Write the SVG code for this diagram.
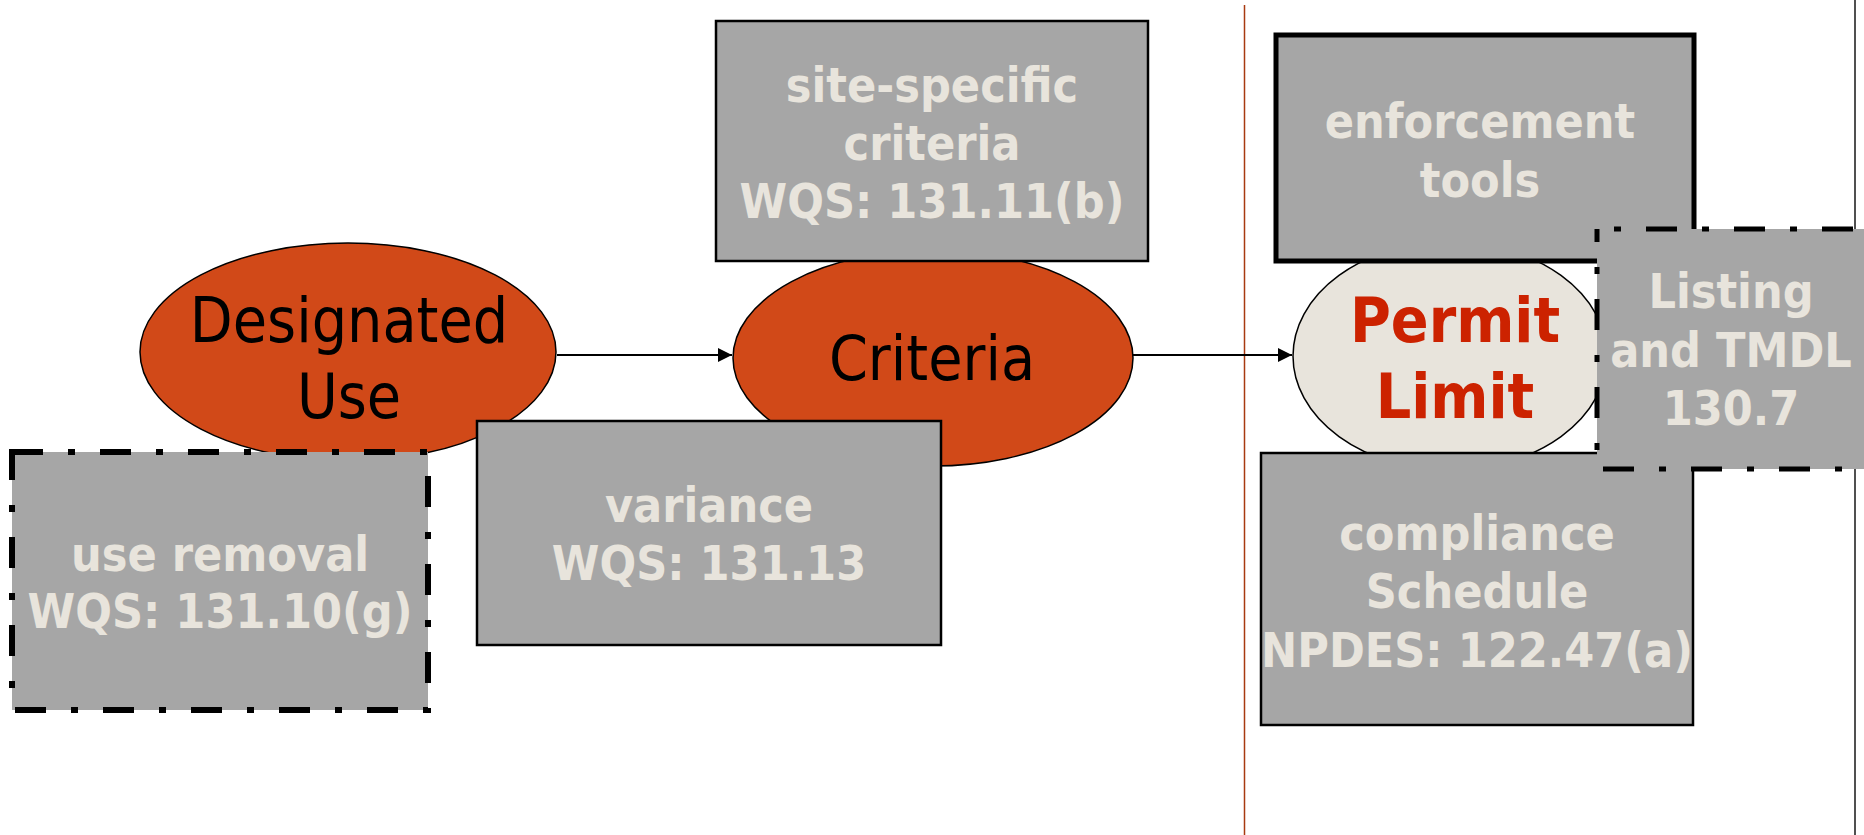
<svg xmlns="http://www.w3.org/2000/svg" width="1864" height="835" viewBox="0 0 1864 835">
  <style>
    .big { font-family: "DejaVu Sans Condensed", "DejaVu Sans", sans-serif; font-stretch: condensed; font-size: 62px; text-anchor: middle; }
    .lbl { font-family: "DejaVu Sans Condensed", "DejaVu Sans", sans-serif; font-stretch: condensed; font-weight: bold; font-size: 48px; fill: #E8E4DC; text-anchor: middle; }
    .use { fill: #D14918; stroke: #000; stroke-width: 1.5; }
    .box { fill: #A6A6A6; stroke: #000; stroke-width: 2.5; }
    .thick { stroke-width: 5; }
    .dash { fill: #A6A6A6; stroke: #000; stroke-width: 6; stroke-dasharray: 31 25 7 25; }
    .edge { fill: none; stroke: #000; stroke-width: 2; marker-end: url(#arrow); }
  </style>
  <defs>
    <marker id="arrow" viewBox="0 0 10 10" refX="10" refY="5" markerUnits="userSpaceOnUse" markerWidth="15" markerHeight="14" orient="auto">
      <path d="M0,0 L10,5 L0,10 z" fill="#000"/>
    </marker>
    <clipPath id="clipCompliance">
      <rect x="1261" y="453" width="432" height="272"/>
    </clipPath>
  </defs>
  <rect width="1864" height="835" fill="#fff"/>

  <!-- section dividers -->
  <g id="dividers">
    <line x1="1855" y1="0" x2="1855" y2="835" stroke="#505050" stroke-width="2"/>
    <line x1="1244.5" y1="5" x2="1244.5" y2="835" stroke="#A83A10" stroke-width="1.5"/>
  </g>

  <!-- main chain -->
  <g id="designated-use">
    <ellipse class="use" cx="348" cy="352" rx="208" ry="109"/>
    <text class="big" x="349" y="342">Designated</text>
    <text class="big" x="349" y="418">Use</text>
  </g>
  <g id="criteria">
    <ellipse class="use" cx="933" cy="358" rx="200" ry="108"/>
    <text class="big" x="932" y="380">Criteria</text>
  </g>
  <g id="permit-limit">
    <ellipse cx="1450" cy="356" rx="157" ry="114" fill="#E8E4DC" stroke="#000" stroke-width="1.5"/>
    <text class="big" x="1455" y="342" font-weight="bold" fill="#CC2200">Permit</text>
    <text class="big" x="1455" y="418" font-weight="bold" fill="#CC2200">Limit</text>
  </g>

  <g id="connectors">
    <line class="edge" x1="557" y1="355" x2="732" y2="355"/>
    <line class="edge" x1="1133" y1="355" x2="1292" y2="355"/>
  </g>

  <!-- regulatory tools -->
  <g id="site-specific">
    <rect class="box" x="716" y="21" width="432" height="240"/>
    <text class="lbl" x="932" y="102">site-specific</text>
    <text class="lbl" x="932" y="160">criteria</text>
    <text class="lbl" x="932" y="218">WQS: 131.11(b)</text>
  </g>
  <g id="enforcement">
    <rect class="box thick" x="1276" y="35" width="418" height="226"/>
    <text class="lbl" x="1480" y="138">enforcement</text>
    <text class="lbl" x="1480" y="197">tools</text>
  </g>
  <g id="variance">
    <rect class="box" x="477" y="421" width="464" height="224"/>
    <text class="lbl" x="709" y="522">variance</text>
    <text class="lbl" x="709" y="580">WQS: 131.13</text>
  </g>
  <g id="use-removal">
    <rect class="dash" x="12" y="452" width="416" height="258"/>
    <text class="lbl" x="220" y="571">use removal</text>
    <text class="lbl" x="220" y="628">WQS: 131.10(g)</text>
  </g>
  <g id="compliance">
    <rect class="box" x="1261" y="453" width="432" height="272"/>
    <g clip-path="url(#clipCompliance)">
      <text class="lbl" x="1477" y="550">compliance</text>
      <text class="lbl" x="1477" y="608">Schedule</text>
      <text class="lbl" x="1477" y="667">NPDES: 122.47(a)</text>
    </g>
  </g>
  <g id="listing-tmdl">
    <rect class="dash" x="1597" y="229" width="275" height="240" style="stroke-width:5;stroke-dashoffset:39"/>
    <text class="lbl" x="1731" y="308">Listing</text>
    <text class="lbl" x="1731" y="367">and TMDL</text>
    <text class="lbl" x="1731" y="425">130.7</text>
  </g>
</svg>
